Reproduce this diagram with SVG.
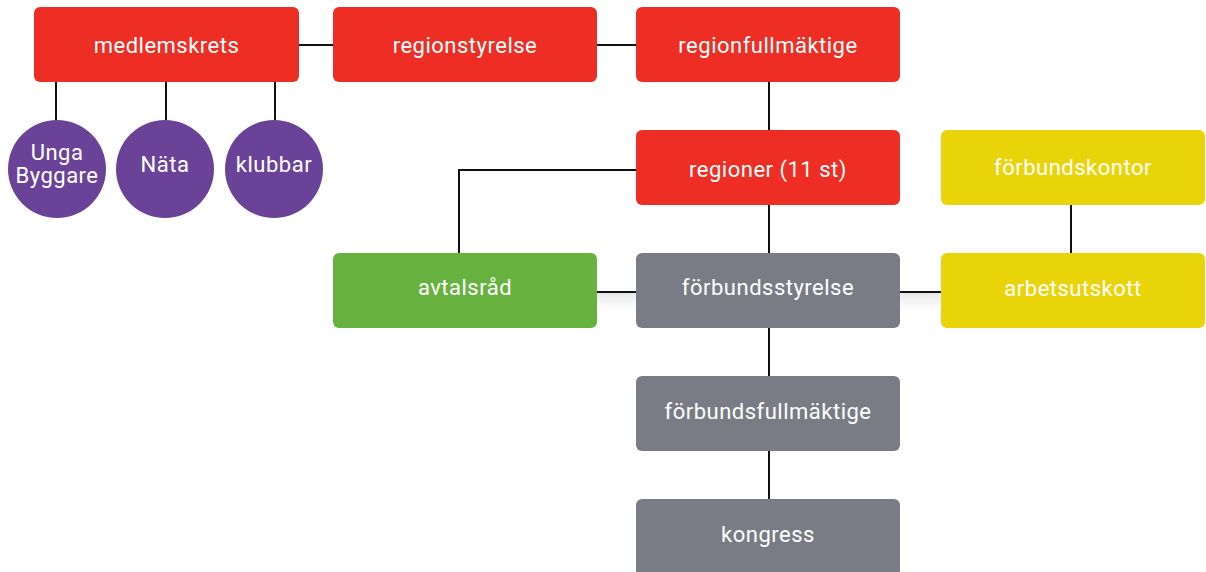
<svg xmlns="http://www.w3.org/2000/svg" width="1206" height="572" viewBox="0 0 1206 572">
  <defs>
    <linearGradient id="shade" x1="0" y1="0" x2="0" y2="1">
      <stop offset="0" stop-color="#e6e6e6"/>
      <stop offset="1" stop-color="#ffffff" stop-opacity="0"/>
    </linearGradient>
  </defs>
  <style>
    .box { stroke: none; }
    .red { fill: #ee2e24; }
    .green { fill: #67b23e; }
    .grey { fill: #797c85; }
    .yellow { fill: #e9d40a; }
    .purple { fill: #6a4399; }
    .lbl { font-family: Roboto, "Liberation Sans", sans-serif; font-size: 22px; fill: #ffffff; text-anchor: middle; letter-spacing: 0.5px; }
    .conn { stroke: #111111; stroke-width: 2; fill: none; }
  </style>
  <rect width="1206" height="572" fill="#ffffff"/>
  <rect x="597" y="293" width="344" height="24" fill="url(#shade)"/>
  <g id="connectors">
    <line class="conn" x1="299" y1="45" x2="333" y2="45"/>
    <line class="conn" x1="597" y1="45" x2="636" y2="45"/>
    <line class="conn" x1="56" y1="82" x2="56" y2="122"/>
    <line class="conn" x1="166" y1="82" x2="166" y2="122"/>
    <line class="conn" x1="275" y1="82" x2="275" y2="122"/>
    <line class="conn" x1="769" y1="82" x2="769" y2="130"/>
    <polyline class="conn" points="636,170 459,170 459,253"/>
    <line class="conn" x1="769" y1="205" x2="769" y2="253"/>
    <line class="conn" x1="597" y1="292" x2="636" y2="292"/>
    <line class="conn" x1="900" y1="292" x2="941" y2="292"/>
    <line class="conn" x1="1071" y1="205" x2="1071" y2="253"/>
    <line class="conn" x1="769" y1="328" x2="769" y2="376"/>
    <line class="conn" x1="769" y1="451" x2="769" y2="499"/>
  </g>
  <g id="medlemskrets">
    <rect class="box red" x="34" y="7" width="265" height="75" rx="6"/>
    <text class="lbl" x="166.5" y="53">medlemskrets</text>
  </g>
  <g id="regionstyrelse">
    <rect class="box red" x="333" y="7" width="264" height="75" rx="6"/>
    <text class="lbl" x="465" y="53">regionstyrelse</text>
  </g>
  <g id="regionfullmaktige">
    <rect class="box red" x="636" y="7" width="264" height="75" rx="6"/>
    <text class="lbl" x="768" y="53">regionfullmäktige</text>
  </g>
  <g id="unga-byggare">
    <circle class="purple" cx="57" cy="169" r="49"/>
    <text class="lbl" x="57" y="160">Unga</text>
    <text class="lbl" x="57" y="183">Byggare</text>
  </g>
  <g id="nata">
    <circle class="purple" cx="165" cy="169" r="49"/>
    <text class="lbl" x="165" y="172">Näta</text>
  </g>
  <g id="klubbar">
    <circle class="purple" cx="274" cy="169" r="49"/>
    <text class="lbl" x="274" y="172">klubbar</text>
  </g>
  <g id="regioner">
    <rect class="box red" x="636" y="130" width="264" height="75" rx="6"/>
    <text class="lbl" x="768" y="177">regioner (11 st)</text>
  </g>
  <g id="forbundskontor">
    <rect class="box yellow" x="941" y="130" width="264" height="75" rx="6"/>
    <text class="lbl" x="1073" y="175">förbundskontor</text>
  </g>
  <g id="avtalsrad">
    <rect class="box green" x="333" y="253" width="264" height="75" rx="6"/>
    <text class="lbl" x="465" y="295">avtalsråd</text>
  </g>
  <g id="forbundsstyrelse">
    <rect class="box grey" x="636" y="253" width="264" height="75" rx="6"/>
    <text class="lbl" x="768" y="295">förbundsstyrelse</text>
  </g>
  <g id="arbetsutskott">
    <rect class="box yellow" x="941" y="253" width="264" height="75" rx="6"/>
    <text class="lbl" x="1073" y="296">arbetsutskott</text>
  </g>
  <g id="forbundsfullmaktige">
    <rect class="box grey" x="636" y="376" width="264" height="75" rx="6"/>
    <text class="lbl" x="768" y="419">förbundsfullmäktige</text>
  </g>
  <g id="kongress">
    <rect class="box grey" x="636" y="499" width="264" height="80" rx="6"/>
    <text class="lbl" x="768" y="542">kongress</text>
  </g>
</svg>
